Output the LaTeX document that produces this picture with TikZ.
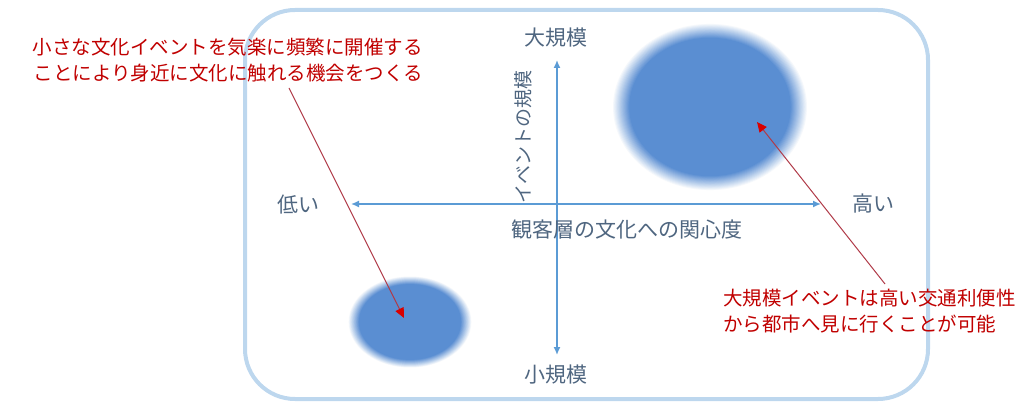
\documentclass[tikz,border=0pt]{standalone}
\usepackage{fontspec}
\setmainfont{Noto Sans CJK JP}
\usetikzlibrary{arrows.meta}
\definecolor{frameblue}{HTML}{BDD7EE}
\definecolor{axisblue}{HTML}{5B9BD5}
\definecolor{ballblue}{HTML}{5A8ED2}
\definecolor{labelgray}{HTML}{4F6680}
\definecolor{notered}{HTML}{C00000}
\definecolor{arrowline}{HTML}{B03A48}
\definecolor{tipred}{HTML}{D90000}
% blurred ellipse: centre, x radius, y radius (outer edge of the blur)
\newcommand\blurellipse[3]{%
  \foreach \i [evaluate=\i as \f using 1-0.011*\i, evaluate=\i as \p using 100*\i/16] in {0,...,16}{%
    \fill[ballblue!\p!white] #1 ellipse [x radius=#2*\f, y radius=#3*\f];}}
\tikzset{
  axis/.style={draw=axisblue, line width=1.5pt, -{Latex[length=8pt,width=7pt]}},
  axlabel/.style={text=labelgray, inner sep=0pt, font=\fontsize{21}{24}\selectfont},
  note/.style={text=notered, inner sep=0pt, font=\fontsize{19.5}{26}\selectfont},
  notearrow/.style={draw=arrowline, line width=1pt, -{Triangle[length=10pt,width=9pt,fill=tipred,color=tipred]}},
}
\begin{document}
\begin{tikzpicture}[x=1pt,y=-1pt]
\useasboundingbox (0,0) rectangle (1035,403);
\blurellipse{(710,107)}{98}{84}
\blurellipse{(410,322)}{62}{46}
\draw[frameblue, line width=4pt, rounded corners=50pt] (245,10) rectangle (928,399);
\coordinate (up) at (557,60);
\coordinate (down) at (557,355);
\coordinate (left) at (351,204);
\coordinate (right) at (821,204);
\coordinate (vmid) at (557,204);
\draw[axis] (vmid) -- (up);
\draw[axis] (vmid) -- (down);
\draw[axis] (vmid) -- (left);
\draw[axis] (vmid) -- (right);
\node[axlabel] (big) at (556,38) {大規模};
\node[axlabel] (small) at (556,375) {小規模};
\node[axlabel] (low) at (298,205) {低い};
\node[axlabel] (high) at (873,204) {高い};
\node[axlabel] (xtitle) at (627,230) {観客層の文化への関心度};
\node[axlabel, rotate=90, font=\fontsize{19}{21}\selectfont] (ytitle) at (523,137) {イベントの規模};
\node[note, align=right, anchor=east] (note1) at (423,60) {小さな文化イベントを気楽に頻繁に開催する\\ことにより身近に文化に触れる機会をつくる};
\node[note, align=left, anchor=west] (note2) at (723,311) {大規模イベントは高い交通利便性\\から都市へ見に行くことが可能};
\coordinate (s1) at (289,88);
\coordinate (t1) at (404,318);
\coordinate (s2) at (885,284);
\coordinate (t2) at (757,122);
\draw[notearrow] (s1) -- (t1);
\draw[notearrow] (s2) -- (t2);
\end{tikzpicture}
\end{document}
